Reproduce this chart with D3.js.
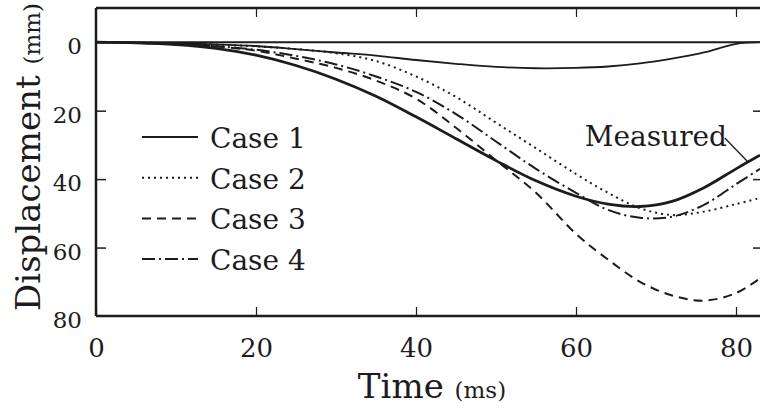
<!DOCTYPE html>
<html>
<head>
<meta charset="utf-8">
<script src="https://cdn.jsdelivr.net/npm/d3@7/dist/d3.min.js"></script>
<style>
  body { margin: 0; background: #fff; }
  svg { display: block; }
  text { font-family: "DejaVu Serif", "Liberation Serif", serif; fill: #1c1c1c; }
</style>
</head>
<body>
<svg id="chart" width="760" height="408"></svg>
<script>
"use strict";

// values (time in ms, displacement in mm)
var times     = [0, 5, 10, 15, 20, 25, 30, 35, 40, 45, 50, 55, 60, 64, 68, 72, 76, 80, 83];
var measured  = [0, 0.2, 0.7, 1.8, 3.8, 6.8, 10.8, 15.8, 21.8, 28.2, 34.6, 40.5, 45, 47.3, 48, 46.5, 42.5, 37, 33];
var case1     = [0, 0.1, 0.3, 0.6, 1.1, 2, 3, 3.9, 5.2, 6.3, 7.2, 7.6, 7.5, 7.1, 6.2, 4.8, 3.0, 0.5, 0];
var case2     = [0, 0.1, 0.3, 0.7, 1.2, 2, 3.2, 5.5, 10, 16, 23.5, 31, 38.5, 44, 48.5, 50.5, 49.5, 47.3, 45.5];
var case3     = [0, 0.2, 0.5, 1.2, 2.5, 4.8, 7.5, 11.2, 16.5, 25, 34.5, 44, 56, 63.5, 70, 74, 75.5, 73.3, 69];
var case4     = [0, 0.2, 0.5, 1.2, 2.2, 4, 6.5, 10, 14.5, 21, 29, 37, 44, 49, 51.3, 51, 47.5, 41.5, 37];

var xTicks = [0, 20, 40, 60, 80];
var yTicks = [0, 20, 40, 60, 80];

var caseNames = ["Case 1", "Case 2", "Case 3", "Case 4"];
var caseDash  = [null, "2,4", "9,6", "13,4,2,4"];

var ink = "#1c1c1c";

var svg = d3.select("#chart");

var x = d3.scaleLinear().domain([0, 83]).range([96, 760]);
var y = d3.scaleLinear().domain([-10, 80]).range([8, 316]);

// frame
svg.append("line")
  .attr("x1", x(0)).attr("x2", 762)
  .attr("y1", y(-10)).attr("y2", y(-10))
  .style("stroke", ink).style("stroke-width", 2.5);
svg.append("line")
  .attr("x1", x(0)).attr("x2", x(0))
  .attr("y1", y(-10)).attr("y2", y(80))
  .style("stroke", ink).style("stroke-width", 2.5);
svg.append("line")
  .attr("x1", 762).attr("x2", 762)
  .attr("y1", y(-10)).attr("y2", y(80))
  .style("stroke", ink).style("stroke-width", 2.5);

// bottom axis, ticks inside
var xAxis = svg.append("g")
  .attr("transform", "translate(0," + y(80) + ")")
  .call(d3.axisBottom(x).tickValues(xTicks).tickSize(-9).tickPadding(23).tickFormat(d3.format("d")));
xAxis.select(".domain").attr("d", "M" + x(0) + ",0H762").style("stroke", ink).style("stroke-width", 2.5);
xAxis.selectAll(".tick line").style("stroke", ink).style("stroke-width", 1.2);
xAxis.selectAll(".tick text")
  .style("font-size", "26px").style("font-family", "DejaVu Serif").style("fill", ink);

// top ticks
svg.append("g")
  .attr("transform", "translate(0," + y(-10) + ")")
  .call(d3.axisTop(x).tickValues(xTicks.slice(1)).tickSize(-9).tickFormat(""))
  .call(function (g) {
    g.select(".domain").remove();
    g.selectAll(".tick line").style("stroke", ink).style("stroke-width", 1.2);
  });

// left axis
var yAxis = svg.append("g")
  .attr("transform", "translate(" + x(0) + ",0)")
  .call(d3.axisLeft(y).tickValues(yTicks).tickSize(-10).tickPadding(14).tickFormat(d3.format("d")));
yAxis.select(".domain").remove();
yAxis.selectAll(".tick line")
  .style("stroke", function (d) { return (d === 0 || d === 80) ? "none" : ink; })
  .style("stroke-width", 1.5);
yAxis.selectAll(".tick text")
  .attr("dy", "0.5em")
  .style("font-size", "23px").style("font-family", "DejaVu Serif").style("fill", ink);

// right ticks
svg.append("g")
  .attr("transform", "translate(762,0)")
  .call(d3.axisRight(y).tickValues([20, 40, 60]).tickSize(-9).tickFormat(""))
  .call(function (g) {
    g.select(".domain").remove();
    g.selectAll(".tick line").style("stroke", ink).style("stroke-width", 1.5);
  });

// zero line
svg.append("line")
  .attr("x1", x(0)).attr("x2", 762)
  .attr("y1", y(0)).attr("y2", y(0))
  .style("stroke", ink).style("stroke-width", 2);

var line = d3.line()
  .x(function (d) { return x(d[0]); })
  .y(function (d) { return y(d[1]); })
  .curve(d3.curveCatmullRom.alpha(0.5));

function zipSeries(vals) {
  return times.map(function (t, i) { return [t, vals[i]]; });
}

var cases = [case1, case2, case3, case4];
cases.forEach(function (vals, i) {
  svg.append("path")
    .attr("d", line(zipSeries(vals)))
    .style("fill", "none")
    .style("stroke", ink)
    .style("stroke-width", i === 0 ? 1.8 : 2)
    .style("stroke-dasharray", caseDash[i]);
});

svg.append("path")
  .attr("d", line(zipSeries(measured)))
  .style("fill", "none")
  .style("stroke", ink)
  .style("stroke-width", 2.8);

// "Measured" label with leader
var labelAt = [61.1, 30.4];
var leaderTo = 81.5;
var leaderY = d3.interpolateNumber(measured[17], measured[18])((leaderTo - 80) / 3);
svg.append("text")
  .attr("x", x(labelAt[0])).attr("y", y(labelAt[1]))
  .style("font-size", "28px")
  .text("Measured");
svg.append("line")
  .attr("x1", x(78.6)).attr("y1", y(28))
  .attr("x2", x(leaderTo)).attr("y2", y(leaderY))
  .style("stroke", ink).style("stroke-width", 1.3);

// legend
var legend = svg.append("g").attr("transform", "translate(142,137)");
caseNames.forEach(function (name, i) {
  var g = legend.append("g").attr("transform", "translate(0," + (i * 40.7) + ")");
  g.append("line")
    .attr("x1", 0).attr("x2", 56)
    .attr("y1", 0).attr("y2", 0)
    .style("stroke", ink)
    .style("stroke-width", 2)
    .style("stroke-dasharray", caseDash[i]);
  g.append("text")
    .attr("x", 68).attr("y", 11)
    .style("font-size", "28px")
    .text(name);
});

// axis titles
var xt = svg.append("text")
  .attr("x", 432).attr("y", 398)
  .attr("text-anchor", "middle");
xt.append("tspan").style("font-size", "34px").text("Time ");
xt.append("tspan").style("font-size", "23px").text("(ms)");

var yt = svg.append("text")
  .attr("transform", "translate(40,157) rotate(-90)")
  .attr("text-anchor", "middle");
yt.append("tspan").style("font-size", "34px").text("Displacement ");
yt.append("tspan").style("font-size", "23px").text("(mm)");
</script>
</body>
</html>
